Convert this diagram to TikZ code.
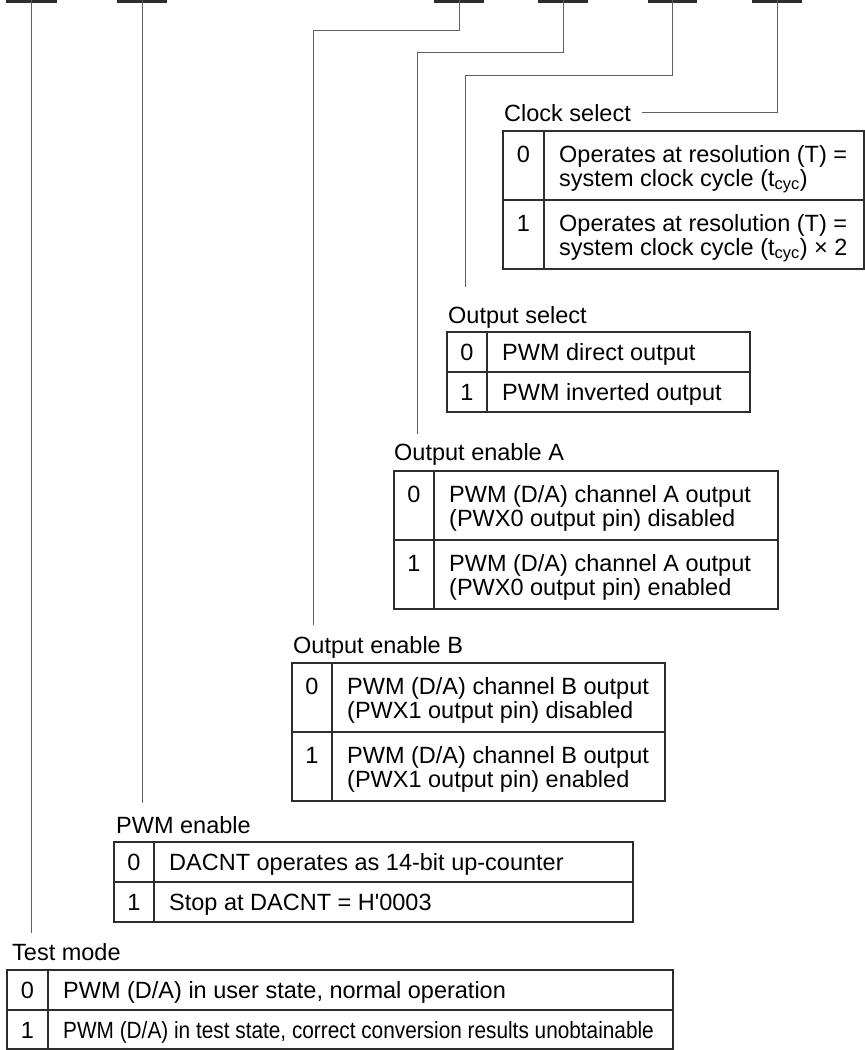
\documentclass[tikz,border=0pt]{standalone}
\usepackage{fontspec}
\setmainfont{Liberation Sans}
\usepackage{tikz}
\usetikzlibrary{positioning}
\definecolor{regLine}{RGB}{95,95,95}
\definecolor{regBox}{RGB}{45,45,45}
\newcommand{\regfont}{\fontsize{23.5}{24}\selectfont}
\tikzset{
    conn/.style={draw=regLine, line width=1pt},
    tbl/.style={draw=regBox, line width=1.2pt},
    lbl/.style={anchor=base west, inner sep=0pt, font=\regfont},
    val/.style={anchor=base, inner sep=0pt, font=\regfont},
    desc/.style={anchor=base west, inner sep=0pt, font=\regfont},
    desctwo/.style={anchor=north west, align=left, inner sep=0pt, font=\regfont}
}

\begin{document}
\begin{tikzpicture}[x=1pt,y=-1pt]
    \useasboundingbox (0,0) rectangle (865,1050);
    \foreach \l/\r/\n in {6/57/7,117/167/6,434/484/3,538/588/2,648/697/1,752/802/0} {
        \fill[regBox] (\l,0) rectangle (\r,2.5);
        \coordinate (b\n) at ({(\l+\r)/2},0);
    }
    \begin{scope}
        \node[lbl] (cslbl) at (504,121) {Clock select};
        \draw[tbl] (503,131) rectangle (864,269);
        \draw[tbl] (544,131) -- (544,269) (503,200) -- (864,200);
        \node[val] (cs0) at (523.5,162) {0};
        \node[desctwo] (cs0t) at (559,145) {Operates at resolution (T) =\\system clock cycle (t\textsubscript{cyc})};
        \node[val] (cs1) at (523.5,231) {1};
        \node[desctwo] (cs1t) at (559,214) {Operates at resolution (T) =\\system clock cycle (t\textsubscript{cyc}) \texttimes\ 2};
    \end{scope}
    \begin{scope}
        \node[lbl] (oslbl) at (448,323) {Output select};
        \draw[tbl] (447,332) rectangle (750,412);
        \draw[tbl] (487,332) -- (487,412) (447,372) -- (750,372);
        \node[val] (os0) at (467,360.3) {0};
        \node[desc] (os0t) at (502,360.3) {PWM direct output};
        \node[val] (os1) at (467,400.3) {1};
        \node[desc] (os1t) at (502,400.3) {PWM inverted output};
    \end{scope}
    \begin{scope}
        \node[lbl] (oealbl) at (394,460) {Output enable A};
        \draw[tbl] (394,471) rectangle (778,609);
        \draw[tbl] (434,471) -- (434,609) (394,540) -- (778,540);
        \node[val] (oea0) at (414,502) {0};
        \node[desctwo] (oea0t) at (449,485) {PWM (D/A) channel A output\\(PWX0 output pin) disabled};
        \node[val] (oea1) at (414,571) {1};
        \node[desctwo] (oea1t) at (449,554) {PWM (D/A) channel A output\\(PWX0 output pin) enabled};
    \end{scope}
    \begin{scope}
        \node[lbl] (oeblbl) at (293,653) {Output enable B};
        \draw[tbl] (292,663) rectangle (665,801);
        \draw[tbl] (332,663) -- (332,801) (292,732) -- (665,732);
        \node[val] (oeb0) at (312,694) {0};
        \node[desctwo] (oeb0t) at (347,677) {PWM (D/A) channel B output\\(PWX1 output pin) disabled};
        \node[val] (oeb1) at (312,763) {1};
        \node[desctwo] (oeb1t) at (347,746) {PWM (D/A) channel B output\\(PWX1 output pin) enabled};
    \end{scope}
    \begin{scope}
        \node[lbl] (pelbl) at (116,833) {PWM enable};
        \draw[tbl] (114,842) rectangle (633,922);
        \draw[tbl] (154,842) -- (154,922) (114,882) -- (633,882);
        \node[val] (pe0) at (134,870.3) {0};
        \node[desc] (pe0t) at (169,870.3) {DACNT operates as 14-bit up-counter};
        \node[val] (pe1) at (134,910.3) {1};
        \node[desc] (pe1t) at (169,910.3) {Stop at DACNT = H\textquotesingle0003};
    \end{scope}
    \begin{scope}
        \node[lbl] (tmlbl) at (12,960) {Test mode};
        \draw[tbl] (7,970) rectangle (673,1049);
        \draw[tbl] (48,970) -- (48,1049) (7,1010) -- (673,1010);
        \node[val] (tm0) at (27.5,998.3) {0};
        \node[desc] (tm0t) at (63,998.3) {PWM (D/A) in user state, normal operation};
        \node[val] (tm1) at (27.5,1038.3) {1};
        \node[desc] (tm1t) at (63,1038.3) {\scalebox{0.885}[1]{PWM (D/A) in test state, correct conversion results unobtainable}};
    \end{scope}
    \coordinate (osend) at (465,287);
    \coordinate (oeaend) at (417,434);
    \coordinate (oebend) at (313,625);
    \coordinate (peend) at (142,803);
    \coordinate (tmend) at (31.5,933);
    \draw[conn] (b0) |- ([xshift=11pt]cslbl.east);
    \draw[conn] (b1) -- ++(0,75) -| (osend);
    \draw[conn] (b2) -- ++(0,52) -| (oeaend);
    \draw[conn] (b3) -- ++(0,30) -| (oebend);
    \draw[conn] (b6) -- (peend);
    \draw[conn] (b7) -- (tmend);
\end{tikzpicture}
\end{document}
